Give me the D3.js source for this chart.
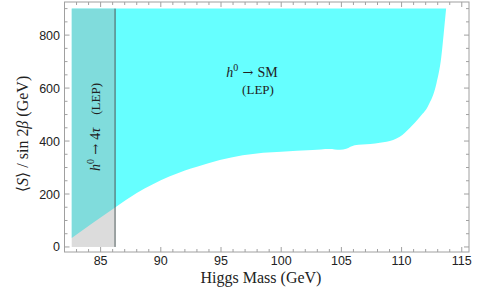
<!DOCTYPE html>
<html>
<head>
<meta charset="utf-8">
<script src="https://cdn.jsdelivr.net/npm/d3@7"></script>
<style>
	body { margin: 0; background: #fff; }
	svg { display: block; }
	.tick-label { font-family: "Liberation Sans", Arial, sans-serif; font-size: 12.5px; fill: #222; }
	.serif { font-family: "Liberation Serif", "DejaVu Serif", serif; fill: #222; }
	.arrow { font-family: "DejaVu Serif", serif; }
</style>
</head>
<body>
<div id="chart"></div>
<script>
// Boundary of the excluded region (Higgs mass in GeV vs <S>/sin2beta in GeV)
const boundaryMass = [82.6, 86.2, 88.0, 89.3, 90.7, 92.0, 93.0, 94.9, 96.8, 98.5, 100, 102.6, 104.0, 104.9, 105.4, 106.1, 107.4, 108.2, 109.3, 109.85, 110.7, 111.5, 112.2, 112.9, 113.3, 113.5, 113.7];
const boundaryS = [34, 149, 204, 236, 266, 289, 303, 328, 346, 356, 360, 366, 370, 367, 371, 384, 389, 394, 404, 416, 450, 490, 532, 618, 718, 806, 900];
const topS = 900;

// LEP h0 -> 4tau band
const lepBand = [82.6, 86.2];

const xTicks = [85, 90, 95, 100, 105, 110, 115];
const yTicks = [0, 200, 400, 600, 800];

const width = 485;
const height = 294;
const frame = { left: 64.5, right: 469, top: 2, bottom: 252 };

const svg = d3
	.select("#chart")
	.append("svg")
	.attr("width", width)
	.attr("height", height);

const xScale = d3.scaleLinear().domain([82, 115.6]).range([frame.left, frame.right]);
const yScale = d3.scaleLinear().domain([-19, 925]).range([frame.bottom, frame.top]);

const boundary = boundaryMass.map((m, i) => ({ m, s: boundaryS[i] }));

// Allowed (cyan) region above boundary
const area = d3
	.area()
	.x((d) => xScale(d.m))
	.y0((d) => yScale(d.s))
	.y1(yScale(topS))
	.curve(d3.curveMonotoneX);

svg.append("path")
	.attr("d", area(boundary))
	.attr("fill", "#66ffff");

// LEP h0 -> 4tau exclusion (translucent grey band)
svg.append("rect")
	.attr("x", xScale(lepBand[0]))
	.attr("y", yScale(topS))
	.attr("width", xScale(lepBand[1]) - xScale(lepBand[0]))
	.attr("height", yScale(0) - yScale(topS))
	.attr("fill", "#a7a7a7")
	.attr("fill-opacity", 0.4);

svg.append("line")
	.attr("x1", xScale(lepBand[1]))
	.attr("x2", xScale(lepBand[1]))
	.attr("y1", yScale(0))
	.attr("y2", yScale(topS))
	.attr("stroke", "#4d5a5a")
	.attr("stroke-width", 1);

// Frame with ticks on all sides
const axisColor = "#a0a0a0";
svg.append("rect")
	.attr("x", frame.left)
	.attr("y", frame.top)
	.attr("width", frame.right - frame.left)
	.attr("height", frame.bottom - frame.top)
	.attr("fill", "none")
	.attr("stroke", axisColor)
	.attr("stroke-width", 1);

const xMinor = d3.range(83, 116, 1);
const yMinor = d3.range(0, 925, 50);

xMinor.forEach((v) => {
	const len = v % 5 === 0 ? 5 : 3;
	const x = xScale(v);
	svg.append("line").attr("x1", x).attr("x2", x).attr("y1", frame.bottom).attr("y2", frame.bottom - len).attr("stroke", axisColor);
	svg.append("line").attr("x1", x).attr("x2", x).attr("y1", frame.top).attr("y2", frame.top + len).attr("stroke", axisColor);
});

yMinor.forEach((v) => {
	const len = v % 200 === 0 ? 5 : 3;
	const y = yScale(v);
	svg.append("line").attr("x1", frame.left).attr("x2", frame.left + len).attr("y1", y).attr("y2", y).attr("stroke", axisColor);
	svg.append("line").attr("x1", frame.right).attr("x2", frame.right - len).attr("y1", y).attr("y2", y).attr("stroke", axisColor);
});

svg.selectAll(".xlab")
	.data(xTicks)
	.enter()
	.append("text")
	.attr("class", "tick-label")
	.attr("x", (d) => xScale(d))
	.attr("y", 265)
	.attr("text-anchor", "middle")
	.text((d) => d);

svg.selectAll(".ylab")
	.data(yTicks)
	.enter()
	.append("text")
	.attr("class", "tick-label")
	.attr("x", 60)
	.attr("y", (d) => yScale(d) + 4.5)
	.attr("text-anchor", "end")
	.text((d) => d);

// Axis titles
svg.append("text")
	.attr("class", "serif")
	.attr("x", 261)
	.attr("y", 283)
	.attr("text-anchor", "middle")
	.style("font-size", "16px")
	.text("Higgs Mass (GeV)");

const yTitle = svg.append("text")
	.attr("class", "serif")
	.attr("transform", "translate(28,134) rotate(-90)")
	.attr("text-anchor", "middle")
	.style("font-size", "16px");
yTitle.append("tspan").text("⟨");
yTitle.append("tspan").style("font-style", "italic").text("S");
yTitle.append("tspan").text("⟩ / sin 2");
yTitle.append("tspan").style("font-style", "italic").text("β");
yTitle.append("tspan").text(" (GeV)");

// Region labels
const smLabel = svg.append("text")
	.attr("class", "serif")
	.attr("x", 252)
	.attr("y", 77)
	.attr("text-anchor", "middle")
	.style("font-size", "14px");
smLabel.append("tspan").style("font-style", "italic").text("h");
smLabel.append("tspan").attr("dy", -6).style("font-size", "10px").text("0");
smLabel.append("tspan").attr("dy", 6).attr("class", "arrow").style("font-size", "13px").text(" → ");
smLabel.append("tspan").text(" SM");

svg.append("text")
	.attr("class", "serif")
	.attr("x", 258)
	.attr("y", 94)
	.attr("text-anchor", "middle")
	.style("font-size", "13px")
	.text("(LEP)");

const tauLabel = svg.append("text")
	.attr("class", "serif")
	.attr("transform", "translate(100,127) rotate(-90)")
	.attr("text-anchor", "middle")
	.style("font-size", "14px");
tauLabel.append("tspan").style("font-style", "italic").text("h");
tauLabel.append("tspan").attr("dy", -6).style("font-size", "10px").text("0");
tauLabel.append("tspan").attr("dy", 6).attr("class", "arrow").style("font-size", "13px").text(" → ");
tauLabel.append("tspan").text("4");
tauLabel.append("tspan").style("font-style", "italic").text("τ");
tauLabel.append("tspan").style("font-size", "13px").text("\u2003(LEP)");
</script>
</body>
</html>
